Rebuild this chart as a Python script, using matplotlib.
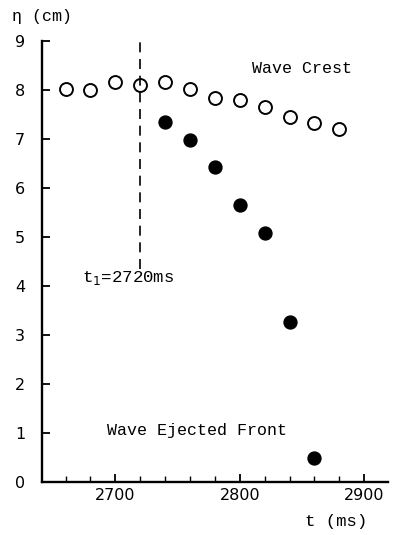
import matplotlib.pyplot as plt
import numpy as np

# wave crest elevation (open circles)
t_crest = [2660, 2680, 2700, 2720, 2740, 2760, 2780, 2800, 2820, 2840, 2860, 2880]
eta_crest = [8.02, 8.0, 8.16, 8.1, 8.16, 8.02, 7.84, 7.8, 7.65, 7.45, 7.33, 7.2]

# ejected front (filled circles)
t_front = [2740, 2760, 2780, 2800, 2820, 2840, 2860]
eta_front = [7.35, 6.98, 6.43, 5.65, 5.08, 3.27, 0.49]

t1 = 2720

mono = 'Liberation Mono'

fig = plt.figure(figsize=(3.99, 5.35), dpi=100)
ax = fig.add_axes([0.105, 0.099, 0.867, 0.824])

ax.plot(t_crest, eta_crest, 'o', mfc='white', mec='black', mew=1.4, ms=9.3, clip_on=False)
ax.plot(t_front, eta_front, 'o', mfc='black', mec='black', ms=9.3, clip_on=False)
ax.plot([t1, t1], [4.35, 9.0], color='black', lw=1.2, dashes=(6, 4))

ax.set_xlim(2641, 2919)
ax.set_ylim(0, 9)
ax.set_xticks(np.arange(2660, 2901, 20), minor=True)
ax.set_xticks([2700, 2800, 2900])
ax.set_yticks(range(10))
ax.tick_params(direction='in', length=6, width=1.3, labelsize=11.5)
ax.tick_params(which='minor', direction='in', length=4, width=1.0)
ax.tick_params(axis='y', pad=12)
ax.tick_params(axis='x', pad=4)
for s in ['top', 'right']:
    ax.spines[s].set_visible(False)
for s in ['left', 'bottom']:
    ax.spines[s].set_linewidth(1.7)

ax.text(2810, 8.45, 'Wave Crest', family=mono, fontsize=12, va='center')
ax.text(2693, 1.06, 'Wave Ejected Front', family=mono, fontsize=12, va='center')
ax.text(2673, 4.16, 't$_1$=2720ms', family=mono, fontsize=12.5, va='center')
fig.text(0.03, 0.97, 'η (cm)', family=mono, fontsize=12, va='center')
fig.text(0.764, 0.026, 't (ms)', family=mono, fontsize=12.5, va='center')

fig.savefig('out.png', dpi=100)
